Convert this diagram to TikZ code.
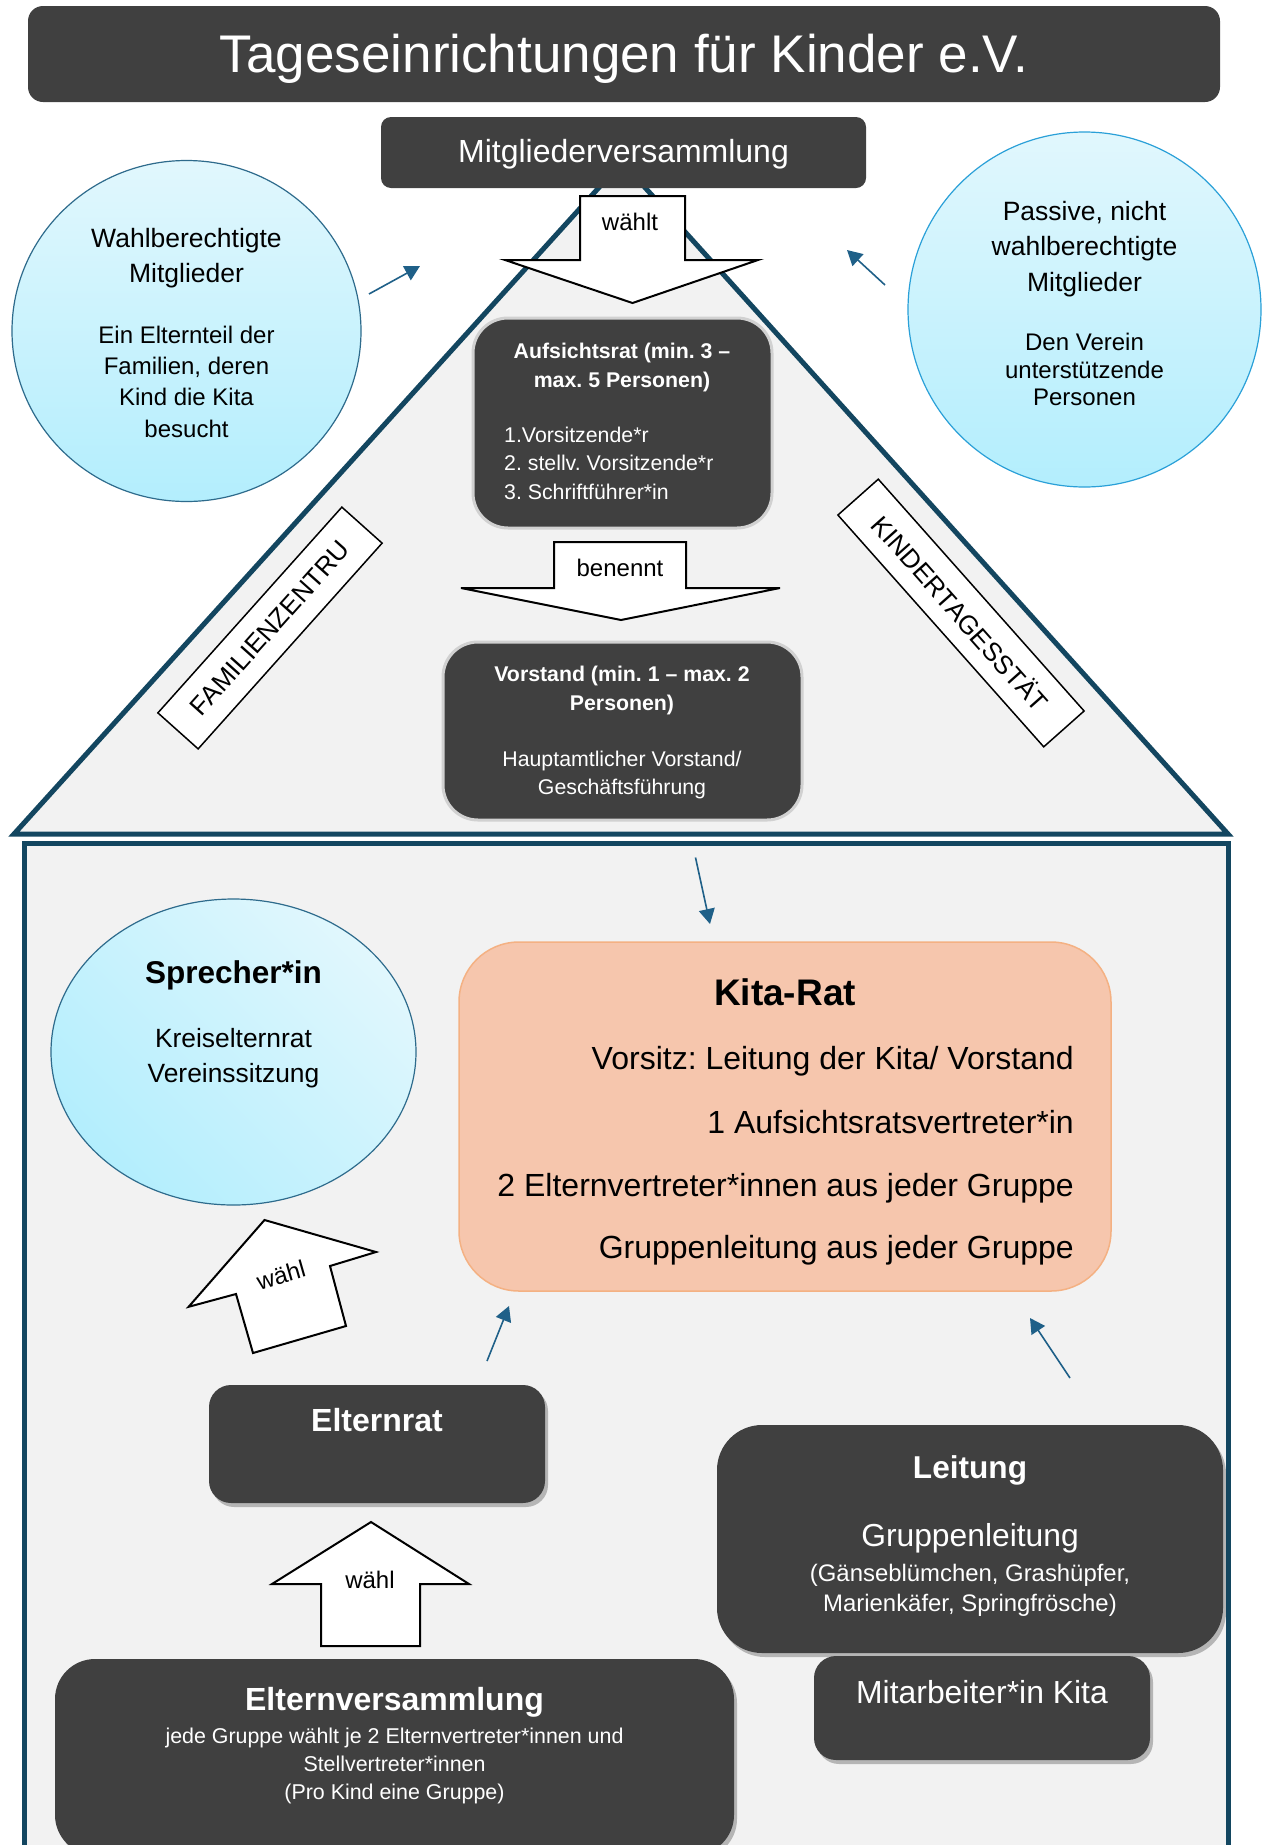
\documentclass[tikz,border=0pt]{standalone}
\usepackage{fontspec}
\setmainfont{Liberation Sans}
\usetikzlibrary{shapes.geometric,arrows.meta,shadows}
\definecolor{dark}{HTML}{404040}
\definecolor{bg}{HTML}{F2F2F2}
\definecolor{roof}{HTML}{134660}
\definecolor{arr}{HTML}{1F6088}
\definecolor{cyanA}{HTML}{E1F7FD}
\definecolor{cyanB}{HTML}{B3EEFD}
\definecolor{circA}{HTML}{2E6B8C}
\definecolor{circB}{HTML}{2AA0D8}
\definecolor{peach}{HTML}{F6C6AD}
\definecolor{peachB}{HTML}{F4B183}
\newcommand\fsz[1]{\fontsize{#1}{#1}\selectfont}
\frenchspacing
\begin{document}
\frenchspacing
\begin{tikzpicture}[x=1pt,y=-1pt,
  darkbox/.style={fill=dark, draw=none, inner sep=0, rounded corners=#1},
  shbox/.style={darkbox=#1, drop shadow={shadow xshift=3pt, shadow yshift=-4pt, opacity=0.25, fill=black}},
  glowbox/.style={darkbox=#1, draw=black!18, line width=3},
  wt/.style={anchor=base, inner sep=0, text=white},
  bt/.style={anchor=base, inner sep=0, text=black},
  bigarrow/.style={draw=black, fill=white, line width=2, line join=miter},
  conn/.style={draw=arr, line width=1.6, -{Triangle[width=16pt,length=15pt]}},
  bubble/.style={ellipse, inner sep=0, top color=cyanA, bottom color=cyanB, line width=1.2},
  tag/.style={draw=black, fill=white, line width=1.5, inner sep=0, minimum height=54}
]
\useasboundingbox[fill=white] (0,0) rectangle (1262,1845);

% roof and house
\draw[roof, line width=5, fill=bg, line join=miter] (622,162) -- (14,834) -- (1228,834) -- cycle;
\draw[roof, line width=5, fill=bg] (24,843) rectangle (1228,1900);

% title
\node[darkbox=15, minimum width=1192, minimum height=96] (title) at (624,54) {};
\node[wt, font=\fsz{53}] (titleT) at (624,72) {Tageseinrichtungen für Kinder e.V.};

% Mitgliederversammlung
\node[darkbox=10, minimum width=485, minimum height=71] (mv) at (623.5,152.5) {};
\node[wt, font=\fsz{32}] (mvT) at (623.5,162) {Mitgliederversammlung};

% waehlt arrow
\draw[bigarrow] (580,196) -- (685,196) -- (685,260) -- (758,260) -- (632.5,303) -- (505,260) -- (580,260) -- cycle;
\node[bt, font=\fsz{24}] (waehlt) at (630,230) {wählt};

% circles top
\node[bubble, draw=circA, minimum width=349, minimum height=341] (wm) at (186.5,331) {};
\node[bt, font=\fsz{26.5}] (wm1) at (186.5,247) {Wahlberechtigte};
\node[bt, font=\fsz{26.5}] (wm2) at (186.5,282) {Mitglieder};
\node[bt, font=\fsz{24}] (wm3) at (186.5,343) {Ein Elternteil der};
\node[bt, font=\fsz{24}] (wm4) at (186.5,374.5) {Familien, deren};
\node[bt, font=\fsz{24}] (wm5) at (186.5,405.5) {Kind die Kita};
\node[bt, font=\fsz{24}] (wm6) at (186.5,437) {besucht};

\node[bubble, draw=circB, minimum width=353, minimum height=355] (pm) at (1084.5,309.5) {};
\node[bt, font=\fsz{26.5}] (pm1) at (1084.5,220) {Passive, nicht};
\node[bt, font=\fsz{26.5}] (pm2) at (1084.5,255) {wahlberechtigte};
\node[bt, font=\fsz{26.5}] (pm3) at (1084.5,291) {Mitglieder};
\node[bt, font=\fsz{24}] (pm4) at (1084.5,350) {Den Verein};
\node[bt, font=\fsz{24}] (pm5) at (1084.5,378) {unterstützende};
\node[bt, font=\fsz{24}] (pm6) at (1084.5,405.5) {Personen};

\coordinate (a1s) at (369,294); \coordinate (a1e) at (420,266);
\coordinate (a2s) at (885,285); \coordinate (a2e) at (847,250);
\draw[conn] (a1s) -- (a1e);
\draw[conn] (a2s) -- (a2e);

% Aufsichtsrat
\node[glowbox=35, minimum width=299, minimum height=210] (ar) at (622.5,423) {};
\node[wt, font=\fsz{21.3}\bfseries] (ar1) at (622,358.7) {Aufsichtsrat (min. 3 –};
\node[wt, font=\fsz{21.3}\bfseries] (ar2) at (622,387) {max. 5 Personen)};
\node[wt, font=\fsz{21.3}, anchor=base west] (ar3) at (504,442.7) {1.Vorsitzende*r};
\node[wt, font=\fsz{21.3}, anchor=base west] (ar4) at (504,470.5) {2. stellv. Vorsitzende*r};
\node[wt, font=\fsz{21.3}, anchor=base west] (ar5) at (504,499) {3. Schriftführer*in};

% benennt arrow
\draw[bigarrow] (554,542) -- (686,542) -- (686,588) -- (780,588) -- (621,620) -- (461,588) -- (554,588) -- cycle;
\node[bt, font=\fsz{24}] (benennt) at (620,576.6) {benennt};

% Vorstand
\node[glowbox=35, minimum width=359, minimum height=178] (vs) at (622.5,731) {};
\node[wt, font=\fsz{21.3}\bfseries] (vs1) at (622,681.5) {Vorstand (min. 1 – max. 2};
\node[wt, font=\fsz{21.3}\bfseries] (vs2) at (622,710) {Personen)};
\node[wt, font=\fsz{21.3}] (vs3) at (622,766) {Hauptamtlicher Vorstand/};
\node[wt, font=\fsz{21.3}] (vs4) at (622,794.5) {Geschäftsführung};

% side tags
\node[tag, minimum width=276, rotate=48.2, font=\fsz{26}] (fam) at (270,628) {FAMILIENZENTRU};
\node[tag, minimum width=310, rotate=-48.4, font=\fsz{26}] (kita) at (961,613) {KINDERTAGESSTÄT};

% Kita-Rat
\coordinate (a3s) at (695.5,857.5); \coordinate (a3e) at (710,924);
\draw[conn] (a3s) -- (a3e);
\node[fill=peach, draw=peachB, line width=1.5, rounded corners=60, inner sep=0, minimum width=652, minimum height=349] (kr) at (785,1116.5) {};
\node[bt, font=\fsz{37}\bfseries] (kr0) at (785,1005) {Kita-Rat};
\node[bt, font=\fsz{32}, anchor=base east] (kr1) at (1074,1069) {Vorsitz: Leitung der Kita/ Vorstand};
\node[bt, font=\fsz{32}, anchor=base east] (kr2) at (1074,1133) {1 Aufsichtsratsvertreter*in};
\node[bt, font=\fsz{32}, anchor=base east] (kr3) at (1074,1196) {2 Elternvertreter*innen aus jeder Gruppe};
\node[bt, font=\fsz{32}, anchor=base east] (kr4) at (1074,1258.6) {Gruppenleitung aus jeder Gruppe};

% Sprecher
\node[bubble, draw=circA, minimum width=365, minimum height=306, shading angle=-45] (sp) at (233.5,1052) {};
\node[bt, font=\fsz{31.5}\bfseries] (sp1) at (233.5,983.6) {Sprecher*in};
\node[bt, font=\fsz{26.4}] (sp2) at (233.5,1047.5) {Kreiselternrat};
\node[bt, font=\fsz{26.4}] (sp3) at (233.5,1082.5) {Vereinssitzung};

% rotated waehl arrow
\draw[bigarrow] (264.5,1220) -- (376,1252) -- (330,1266) -- (346,1326) -- (253,1353) -- (236,1294) -- (188.6,1306.8) -- cycle;
\node[inner sep=0, font=\fsz{24}, rotate=16] (waehl1) at (281,1275) {wähl};

% Elternrat
\node[shbox=22, minimum width=336, minimum height=118] (er) at (377,1444) {};
\node[wt, font=\fsz{32}\bfseries] (erT) at (377,1431.7) {Elternrat};
\coordinate (a4s) at (487,1361); \coordinate (a4e) at (509,1306);
\draw[conn] (a4s) -- (a4e);

% Leitung
\coordinate (a5s) at (1070,1378); \coordinate (a5e) at (1030,1318);
\draw[conn] (a5s) -- (a5e);
\node[shbox=45, minimum width=506, minimum height=228] (lt) at (970,1539) {};
\node[wt, font=\fsz{31.6}\bfseries] (lt1) at (970,1478) {Leitung};
\node[wt, font=\fsz{31.8}] (lt2) at (970,1546.7) {Gruppenleitung};
\node[wt, font=\fsz{23.9}] (lt3) at (970,1581.7) {(Gänseblümchen, Grashüpfer,};
\node[wt, font=\fsz{23.9}] (lt4) at (970,1611.7) {Marienkäfer, Springfrösche)};

% Mitarbeiter
\node[shbox=22, minimum width=336, minimum height=104] (ma) at (982,1708) {};
\node[wt, font=\fsz{31.9}] (maT) at (982,1703) {Mitarbeiter*in Kita};

% lower waehl arrow
\draw[bigarrow] (371,1522) -- (469,1584) -- (420,1584) -- (420,1646) -- (321,1646) -- (321,1584) -- (272,1584) -- cycle;
\node[bt, font=\fsz{24}] (waehl2) at (370,1588) {wähl};

% Elternversammlung
\node[shbox=40, minimum width=679, minimum height=196] (ev) at (394.5,1757) {};
\node[wt, font=\fsz{32}\bfseries] (ev1) at (394.5,1710) {Elternversammlung};
\node[wt, font=\fsz{21.4}] (ev2) at (394.5,1743) {jede Gruppe wählt je 2 Elternvertreter*innen und};
\node[wt, font=\fsz{21.4}] (ev3) at (394.5,1771.7) {Stellvertreter*innen};
\node[wt, font=\fsz{21.4}] (ev4) at (394.5,1799) {(Pro Kind eine Gruppe)};
\end{tikzpicture}
\end{document}
